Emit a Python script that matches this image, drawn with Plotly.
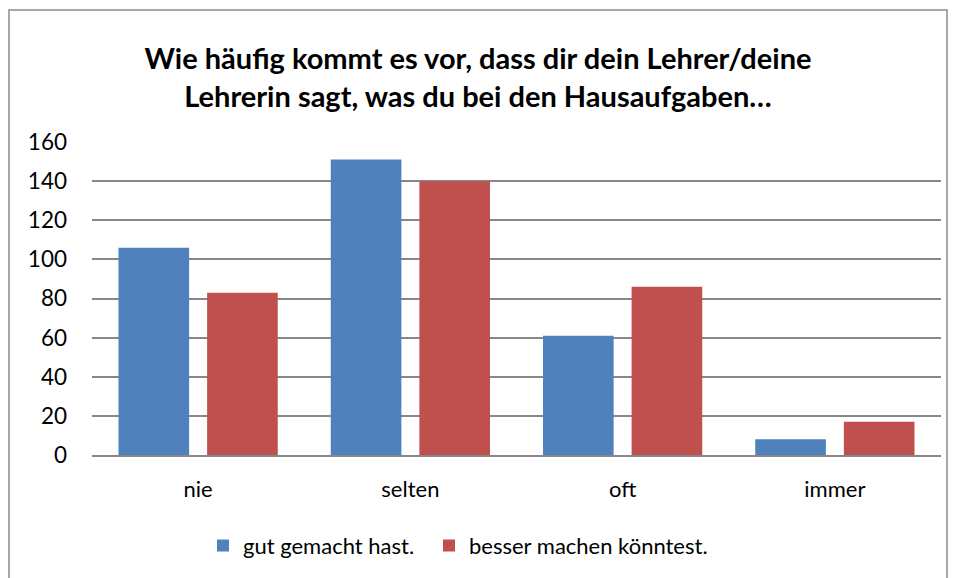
import plotly.graph_objects as go

categories = ["nie", "selten", "oft", "immer"]
series_names = ["gut gemacht hast.", "besser machen könntest."]
gut_values = [106, 151, 61, 8]
besser_values = [83, 140, 86, 17]
y_ticks = [0, 20, 40, 60, 80, 100, 120, 140, 160]
title_text = "Wie häufig kommt es vor, dass dir dein Lehrer/deine<br>Lehrerin sagt, was du bei den Hausaufgaben…"

FONT = "Lato"

fig = go.Figure()
fig.add_trace(go.Bar(x=categories, y=gut_values, name=series_names[0],
                     marker=dict(color="#4F81BD", line=dict(width=0)), legend="legend"))
fig.add_trace(go.Bar(x=categories, y=besser_values, name=series_names[1],
                     marker=dict(color="#C0504D", line=dict(width=0)), legend="legend2"))

legend_common = dict(orientation="h", xanchor="left", y=-0.29, yanchor="middle",
                     font=dict(family=FONT, size=22), itemwidth=30,
                     bgcolor="rgba(0,0,0,0)")

# page has an 8px body margin; figure is 949x570 so plot area lands at page x 92..941, y 142..455
fig.update_layout(
    width=949, height=570,
    margin=dict(l=84, r=16, t=134, b=123, autoexpand=False),
    paper_bgcolor="white", plot_bgcolor="white",
    barmode="group", bargap=0.165, bargroupgap=0.203,
    font=dict(family=FONT, color="#000000", size=22),
    title=dict(text=title_text, x=0.5 + (478 - 8 - 474.5) / 949, xanchor="center", xref="container",
               y=1 - 61 / 570, yanchor="middle",
               font=dict(family=FONT, size=29, color="#000000", weight="bold")),
    showlegend=True,
    legend=dict(x=(203 - 92) / 849, **legend_common),
    legend2=dict(x=(429 - 92) / 849, **legend_common),
    xaxis=dict(showgrid=False, showline=True, linecolor="#878787", linewidth=1.6,
               ticks="", tickfont=dict(family=FONT, size=22), ticklabelstandoff=14,
               zeroline=False),
    yaxis=dict(range=[0, 160], tickvals=y_ticks, showgrid=True, gridcolor="#878787",
               gridwidth=1.6, zeroline=False, showline=False, ticks="",
               tickfont=dict(family=FONT, size=22.5), ticklabelstandoff=24),
    shapes=[dict(type="rect", xref="paper", yref="paper",
                 x0=(9 - 92) / 849, x1=(947 - 92) / 849,
                 y0=(455 - 585) / 313, y1=(455 - 10) / 313,
                 line=dict(color="#8a8a8a", width=1.5), fillcolor="rgba(0,0,0,0)",
                 layer="below")],
)

fig.write_html("out.html")
